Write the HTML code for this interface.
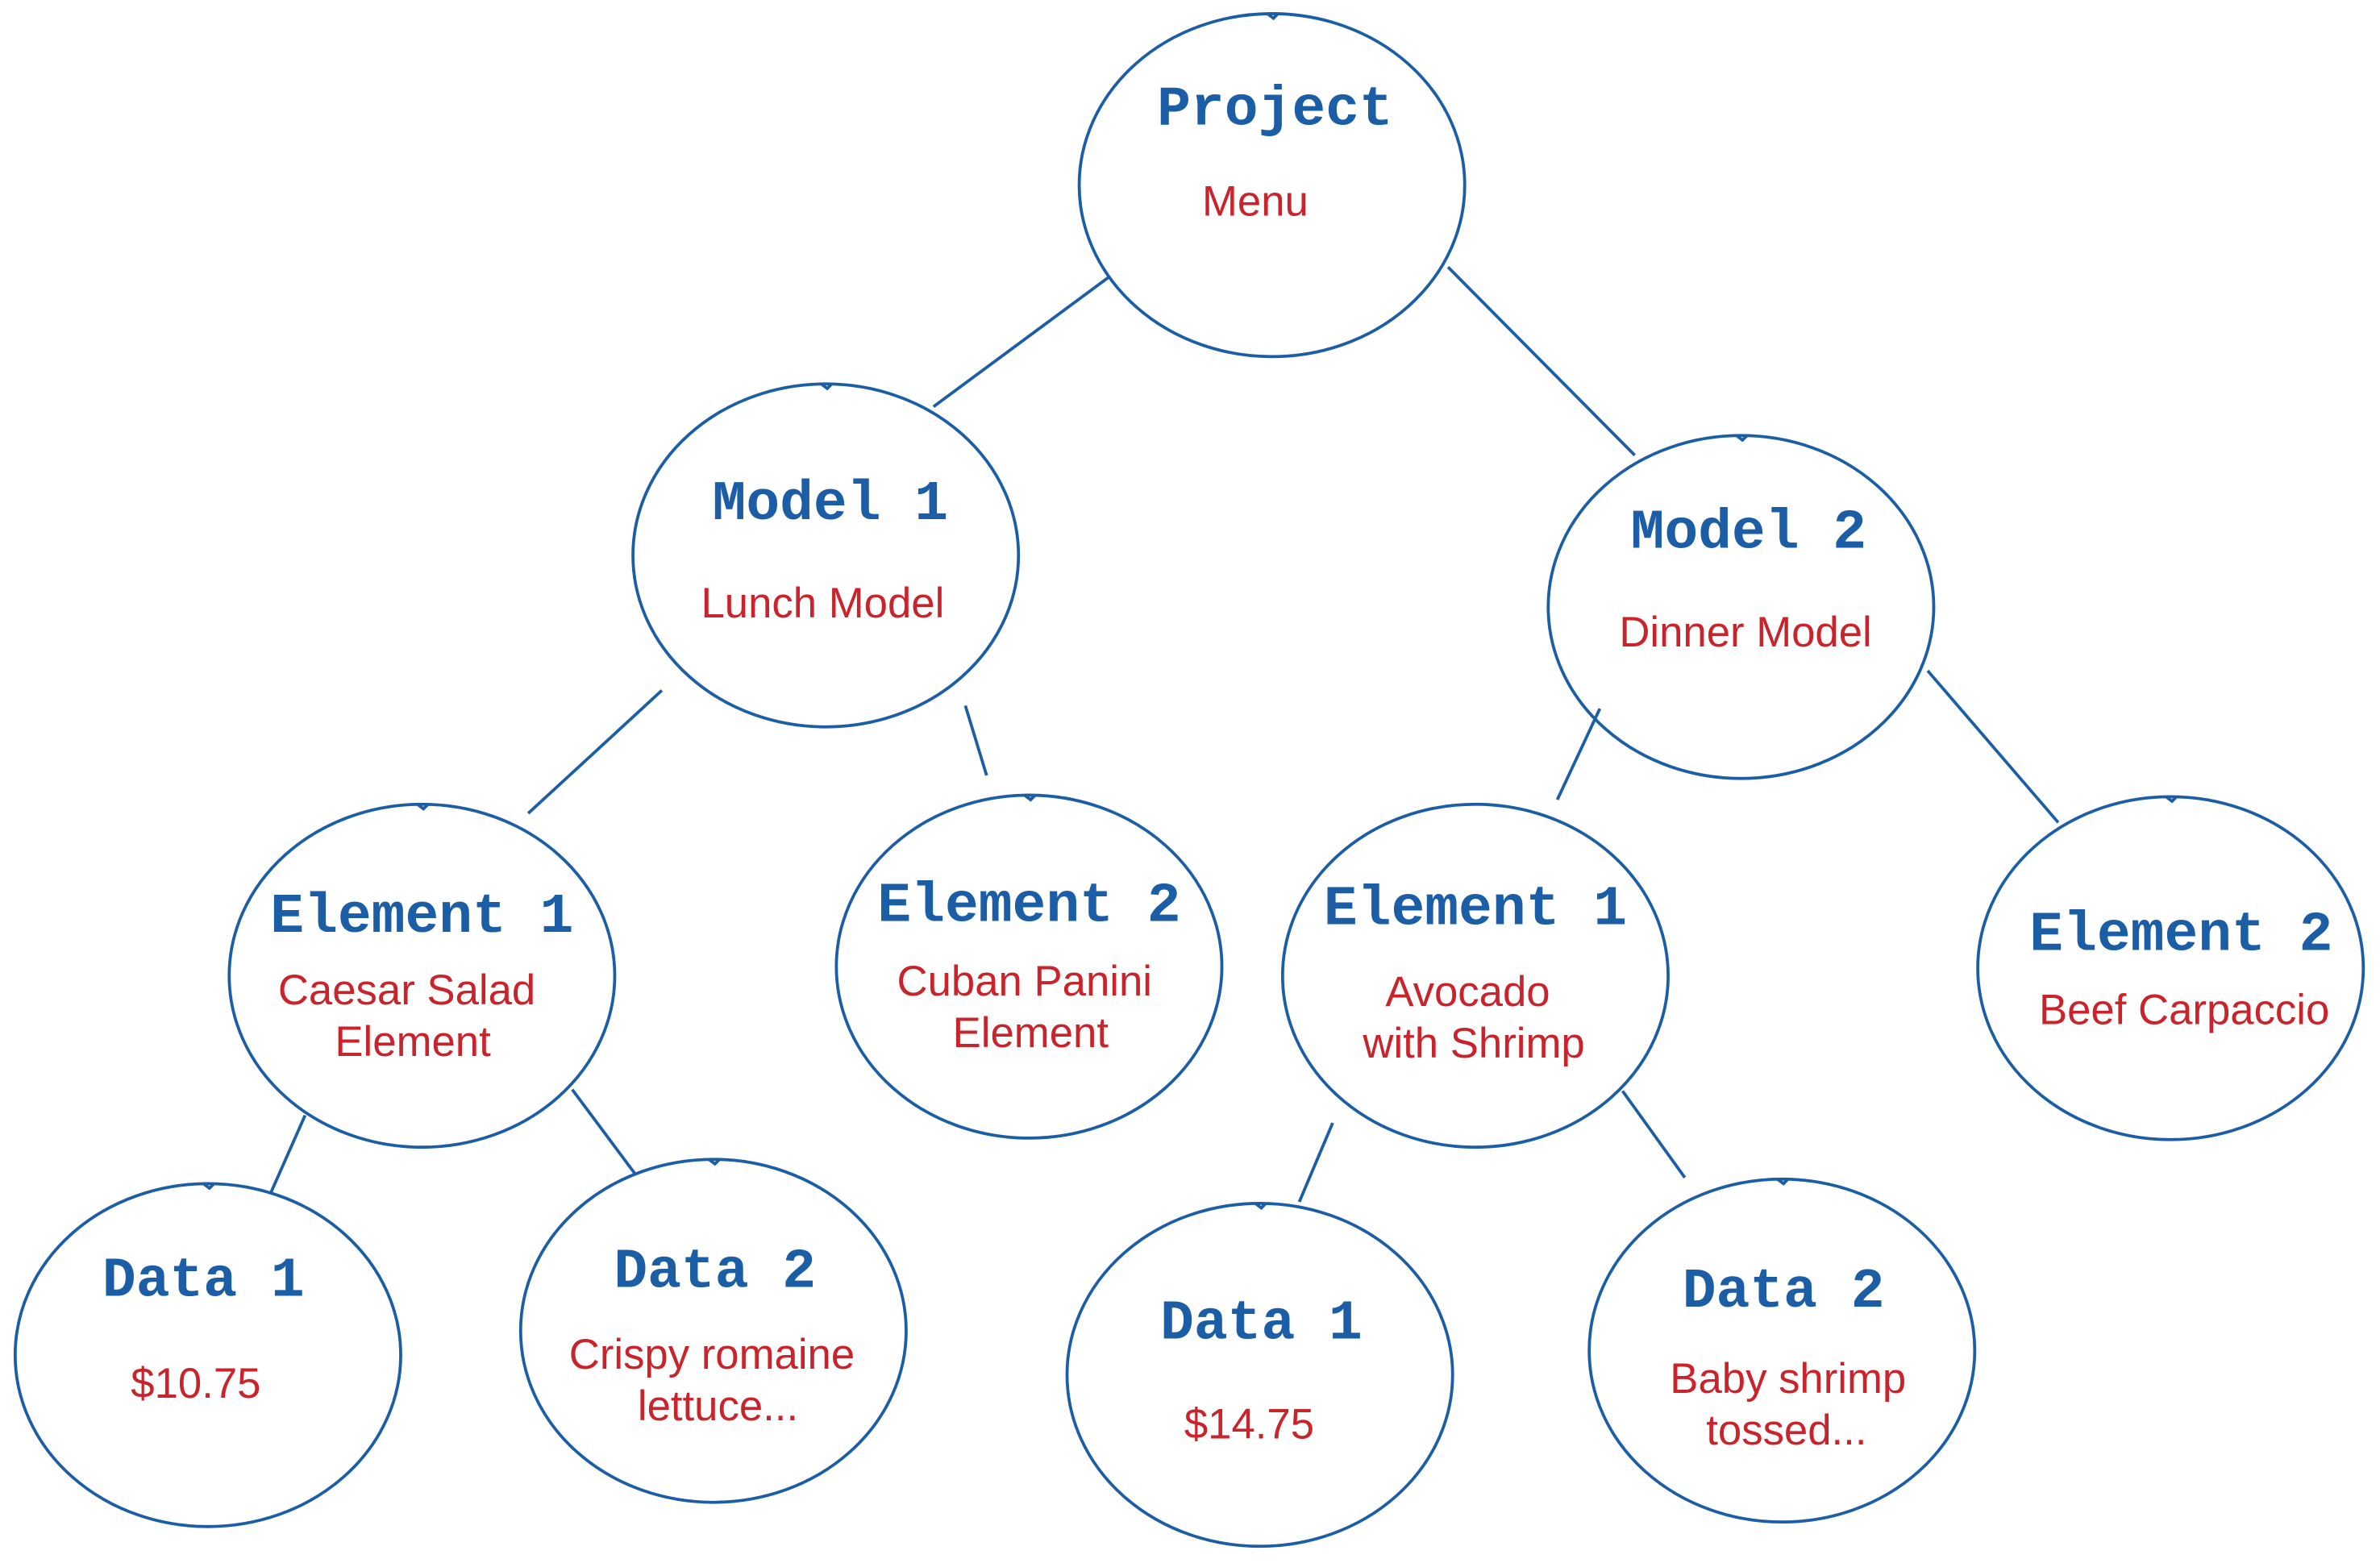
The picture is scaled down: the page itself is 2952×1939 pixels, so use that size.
<!DOCTYPE html>
<html><head><meta charset="utf-8"><style>
html,body{margin:0;padding:0;background:#fff;}
svg{display:block;}
.t{font-family:"Liberation Mono",monospace;font-weight:bold;font-size:37px;fill:#1b5ea6;text-anchor:middle;}
.r{font-family:"Liberation Sans",sans-serif;font-size:28px;fill:#c9232b;text-anchor:middle;}
ellipse,line,path{stroke:#1b5ea6;stroke-width:2;fill:none;}
</style></head><body>
<svg width="2952" height="1939" viewBox="0 0 1568 1030" preserveAspectRatio="none">
<g>
<ellipse cx="838" cy="122" rx="127" ry="113"/>
<ellipse cx="544" cy="366" rx="127" ry="113"/>
<ellipse cx="1147" cy="400" rx="127" ry="113"/>
<ellipse cx="278" cy="643" rx="127" ry="113"/>
<ellipse cx="678" cy="637" rx="127" ry="113"/>
<ellipse cx="972" cy="643" rx="127" ry="113"/>
<ellipse cx="1430" cy="638" rx="127" ry="113"/>
<ellipse cx="137" cy="893" rx="127" ry="113"/>
<ellipse cx="470" cy="877" rx="127" ry="113"/>
<ellipse cx="830" cy="906" rx="127" ry="113"/>
<ellipse cx="1174" cy="890" rx="127" ry="113"/>
<path d="M835 9 l4 3 l3 -3"/>
<path d="M541 253 l4 3 l3 -3"/>
<path d="M1144 287 l4 3 l3 -3"/>
<path d="M275 530 l4 3 l3 -3"/>
<path d="M675 524 l4 3 l3 -3"/>
<path d="M1427 525 l4 3 l3 -3"/>
<path d="M134 780 l4 3 l3 -3"/>
<path d="M467 764 l4 3 l3 -3"/>
<path d="M827 793 l4 3 l3 -3"/>
<path d="M1171 777 l4 3 l3 -3"/>
</g>
<g>
<line x1="730" y1="183" x2="615" y2="268"/>
<line x1="954" y1="176" x2="1077" y2="300"/>
<line x1="436" y1="455" x2="348" y2="536"/>
<line x1="636" y1="465" x2="650" y2="511"/>
<line x1="1054" y1="467" x2="1026" y2="527"/>
<line x1="1270" y1="442" x2="1356" y2="542"/>
<line x1="201" y1="735" x2="178" y2="787"/>
<line x1="377" y1="718" x2="418" y2="773"/>
<line x1="878" y1="740" x2="856" y2="792"/>
<line x1="1069" y1="719" x2="1110" y2="776"/>
</g>
<text class="t" x="840" y="82">Project</text>
<text class="r" x="827" y="142">Menu</text>
<text class="t" x="547" y="342">Model 1</text>
<text class="r" x="542" y="407">Lunch Model</text>
<text class="t" x="1152" y="361">Model 2</text>
<text class="r" x="1150" y="426">Dinner Model</text>
<text class="t" x="278" y="614">Element 1</text>
<text class="r" x="268" y="662">Caesar Salad</text>
<text class="r" x="272" y="696">Element</text>
<text class="t" x="678" y="607">Element 2</text>
<text class="r" x="675" y="656">Cuban Panini</text>
<text class="r" x="679" y="690">Element</text>
<text class="t" x="972" y="609">Element 1</text>
<text class="r" x="967" y="663">Avocado</text>
<text class="r" x="971" y="697">with Shrimp</text>
<text class="t" x="1437" y="626">Element 2</text>
<text class="r" x="1439" y="675">Beef Carpaccio</text>
<text class="t" x="134" y="854">Data 1</text>
<text class="r" x="129" y="921">$10.75</text>
<text class="t" x="471" y="848">Data 2</text>
<text class="r" x="469" y="902">Crispy romaine</text>
<text class="r" x="473" y="936">lettuce...</text>
<text class="t" x="831" y="882">Data 1</text>
<text class="r" x="823" y="948">$14.75</text>
<text class="t" x="1175" y="861">Data 2</text>
<text class="r" x="1178" y="918">Baby shrimp</text>
<text class="r" x="1177" y="952">tossed...</text>
</svg>
</body></html>
